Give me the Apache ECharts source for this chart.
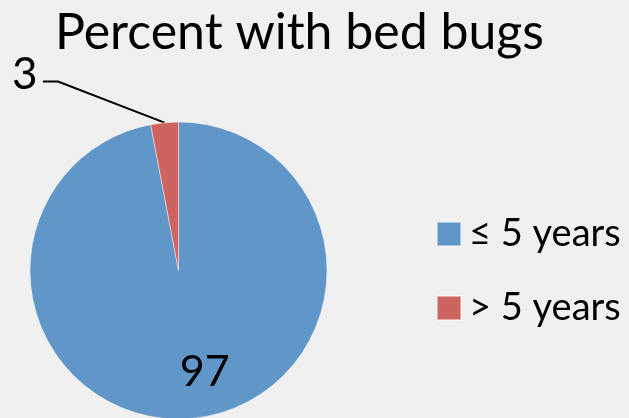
<!DOCTYPE html>
<html>
<head>
<meta charset="utf-8">
<script src="https://cdn.jsdelivr.net/npm/echarts@6/dist/echarts.min.js"></script>
<style>
  html, body { margin: 0; padding: 0; background: #f0f0f0; }
  #chart { width: 629px; height: 418px; }
</style>
</head>
<body>
<div id="chart"></div>
<script>
// Share of cases with bed bugs, split by age group
const titleText = 'Percent with bed bugs';
const categories = ['≤ 5 years', '> 5 years'];
const percentValues = [97, 3];
const sliceColors = ['#6096c8', '#cd645f'];

const FONT = 'Lato, "Open Sans", sans-serif';

const chart = echarts.init(document.getElementById('chart'), null, { renderer: 'canvas' });

const pieData = categories.map((name, i) => ({
  name: name,
  value: percentValues[i],
  itemStyle: { color: sliceColors[i] }
}));

chart.setOption({
  backgroundColor: '#f0f0f0',
  animation: false,
  title: {
    text: titleText,
    left: 50,
    top: 3,
    textStyle: {
      fontFamily: FONT,
      fontSize: 50,
      fontWeight: 'normal',
      color: '#000'
    }
  },
  legend: {
    orient: 'vertical',
    left: 436,
    top: 215,
    padding: 0,
    itemWidth: 24,
    itemHeight: 24,
    itemGap: 36,
    icon: 'rect',
    data: categories,
    textStyle: {
      fontFamily: FONT,
      fontSize: 38,
      color: '#000',
      padding: [0, 0, 0, 3]
    }
  },
  series: [{
    type: 'pie',
    center: [178.5, 270.5],
    radius: 148.5,
    startAngle: 90,
    clockwise: true,
    avoidLabelOverlap: false,
    itemStyle: {
      borderColor: 'rgba(255,255,255,0.45)',
      borderWidth: 1
    },
    emphasis: { disabled: true },
    data: pieData.map((d, i) => Object.assign(d, {
      label: i === 0
        ? { show: true, position: 'inside', fontSize: 43 }
        : { show: true, position: 'outside', fontSize: 44 },
      labelLine: i === 0 ? { show: false } : { show: true, lineStyle: { color: '#000', width: 2 } }
    })),
    label: {
      formatter: '{c}',
      fontFamily: FONT,
      color: '#000'
    },
    labelLayout: function (params) {
      if (params.dataIndex === 0) {
        return { dx: 19, dy: 25 };
      }
      const start = params.labelLinePoints ? params.labelLinePoints[0] : [164.5, 122.7];
      return {
        x: 12,
        y: 75,
        align: 'left',
        verticalAlign: 'middle',
        labelLinePoints: [start, [58, 81.5], [43, 81.5]]
      };
    }
  }]
});
</script>
</body>
</html>
